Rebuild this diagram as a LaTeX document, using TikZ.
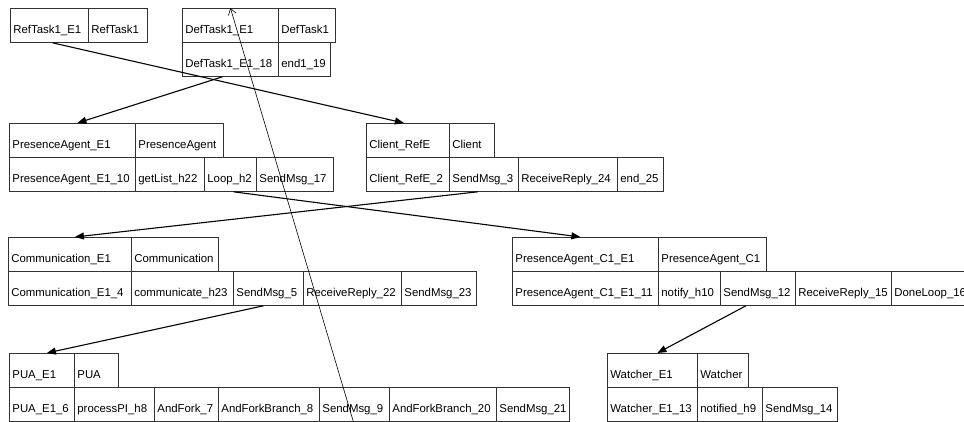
\documentclass[tikz,border=0pt]{standalone}
\usepackage{fontspec}
\setmainfont{Liberation Sans}
\usetikzlibrary{arrows.meta}

\newcommand\cellfont{\fontsize{11.4}{13}\selectfont}
% \mkcell{name}{left x}{right x}{top y}{text}
\newcommand\mkcell[5]{%
  \pgfmathsetmacro\cellw{#3-(#2)}%
  \pgfmathsetmacro\cellinner{\cellw-6}%
  \node[cell, minimum width=\cellw pt, text width=\cellinner pt] (#1) at (#2,#4) {\mbox{#5}};}

\tikzset{
  cell/.style={draw=black!80, line width=0.8pt, anchor=north west,
    minimum height=34pt, inner xsep=3pt, inner ysep=0pt, align=left,
    font=\cellfont, text height=20pt, text depth=4pt},
  conn/.style={draw=black, line width=1.1pt, -{Triangle[length=9pt,width=7pt]}},
  thinconn/.style={draw=black, line width=0.6pt, -{Straight Barb[length=6pt,width=8pt]}}
}

\begin{document}
\begin{tikzpicture}[x=1pt, y=-1pt]
\useasboundingbox (0,0) rectangle (964,422);
\clip (0,0) rectangle (964,422);
\fill[white] (0,0) rectangle (964,422);

% RefTask1
\mkcell{rtE}{10}{88}{8}{RefTask1\_E1}
\mkcell{rtC}{88}{147}{8}{RefTask1}

% DefTask1
\mkcell{dtE}{182}{278}{8}{DefTask1\_E1}
\mkcell{dtC}{278}{335}{8}{DefTask1}
\mkcell{dtA}{182}{278}{42}{DefTask1\_E1\_18}
\mkcell{dtB}{278}{330}{42}{end1\_19}

% PresenceAgent
\mkcell{paE}{9}{135}{123}{PresenceAgent\_E1}
\mkcell{paC}{135}{223}{123}{PresenceAgent}
\mkcell{paA}{9}{135}{157}{PresenceAgent\_E1\_10}
\mkcell{paB}{135}{204}{157}{getList\_h22}
\mkcell{paL}{204}{256}{157}{Loop\_h2}
\mkcell{paS}{256}{333}{157}{SendMsg\_17}

% Client
\mkcell{clE}{366}{449}{123}{Client\_RefE}
\mkcell{clC}{449}{494}{123}{Client}
\mkcell{clA}{366}{449}{157}{Client\_RefE\_2}
\mkcell{clS}{449}{518}{157}{SendMsg\_3}
\mkcell{clR}{518}{617}{157}{ReceiveReply\_24}
\mkcell{clN}{617}{663}{157}{end\_25}

% Communication
\mkcell{coE}{8}{131}{237}{Communication\_E1}
\mkcell{coC}{131}{218}{237}{Communication}
\mkcell{coA}{8}{131}{271}{Communication\_E1\_4}
\mkcell{coB}{131}{233}{271}{communicate\_h23}
\mkcell{coS}{233}{303}{271}{SendMsg\_5}
\mkcell{coR}{303}{401}{271}{ReceiveReply\_22}
\mkcell{coT}{401}{476}{271}{SendMsg\_23}

% PresenceAgent_C1
\mkcell{pcE}{512}{658}{237}{PresenceAgent\_C1\_E1}
\mkcell{pcC}{658}{766}{237}{PresenceAgent\_C1}
\mkcell{pcA}{512}{658}{271}{PresenceAgent\_C1\_E1\_11}
\mkcell{pcB}{658}{720}{271}{notify\_h10}
\mkcell{pcS}{720}{795}{271}{SendMsg\_12}
\mkcell{pcR}{795}{891}{271}{ReceiveReply\_15}
\mkcell{pcD}{891}{975}{271}{DoneLoop\_16}

% PUA
\mkcell{puE}{9}{74}{353}{PUA\_E1}
\mkcell{puC}{74}{118}{353}{PUA}
\mkcell{puA}{9}{74}{387}{PUA\_E1\_6}
\mkcell{puB}{74}{154}{387}{processPI\_h8}
\mkcell{puF}{154}{218}{387}{AndFork\_7}
\mkcell{puG}{218}{319}{387}{AndForkBranch\_8}
\mkcell{puS}{319}{389}{387}{SendMsg\_9}
\mkcell{puH}{389}{496}{387}{AndForkBranch\_20}
\mkcell{puT}{496}{569}{387}{SendMsg\_21}

% Watcher
\mkcell{waE}{607}{697}{353}{Watcher\_E1}
\mkcell{waC}{697}{748}{353}{Watcher}
\mkcell{waA}{607}{697}{387}{Watcher\_E1\_13}
\mkcell{waB}{697}{762}{387}{notified\_h9}
\mkcell{waS}{762}{837}{387}{SendMsg\_14}

% connectors
\draw[conn] ([xshift=3pt]rtE.south) -- ([xshift=-4pt]clE.north);
\draw[conn] ([xshift=-8pt]dtA.south) -- ([xshift=5pt]paE.north);
\draw[conn] ([xshift=3pt]paL.south) -- ([xshift=-5pt]pcE.north);
\draw[conn] ([xshift=-6pt]clS.south) -- ([xshift=5pt]coE.north);
\draw[conn] ([xshift=-5pt]coS.south) -- ([xshift=5pt]puE.north);
\draw[conn] ([xshift=-12pt]pcS.south) -- ([xshift=5pt]waE.north);
\draw[thinconn] ([xshift=-1pt]puS.south) -- (dtE.north);
\end{tikzpicture}
\end{document}
